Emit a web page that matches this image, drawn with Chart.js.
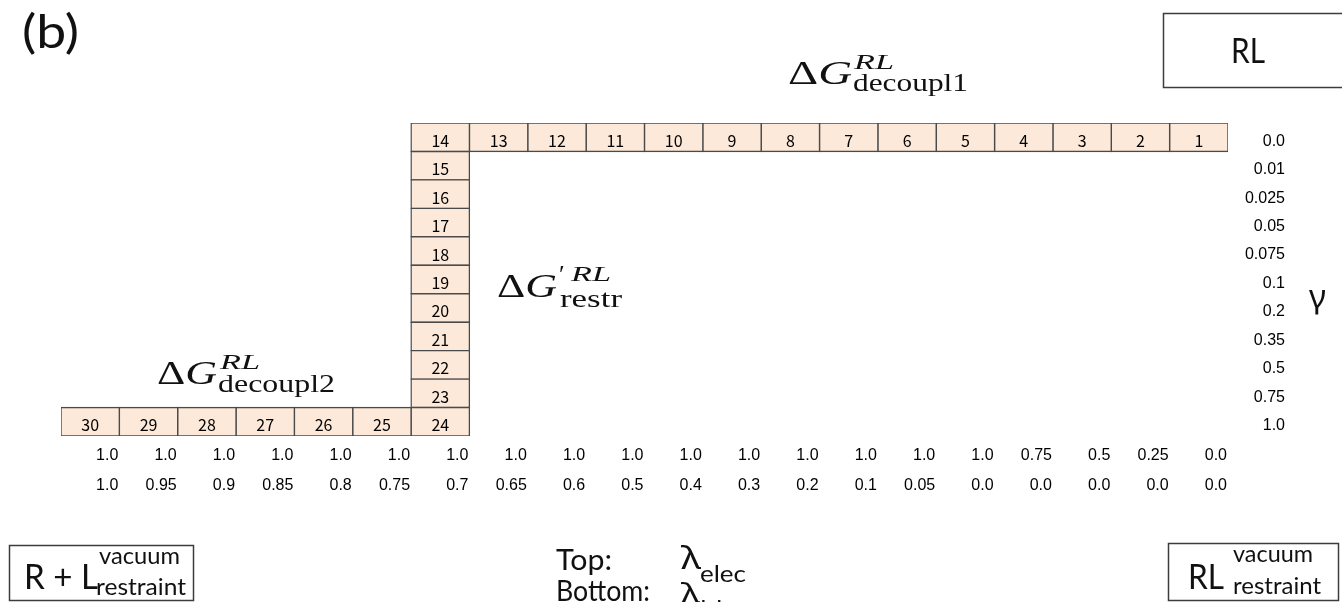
<!DOCTYPE html>
<html>
<head>
<meta charset="utf-8">
<script src="https://cdn.jsdelivr.net/npm/chart.js@4.4.1/dist/chart.umd.min.js"></script>
<style>
  html, body { margin: 0; padding: 0; background: #fff; }
  #wrap { width: 1342px; height: 602px; position: relative; overflow: hidden; }
</style>
</head>
<body>
<div id="wrap"><canvas id="c" width="1342" height="602"></canvas></div>
<script>
// λ schedule, one entry per column from left to right
const lambdaElec = ['1.0','1.0','1.0','1.0','1.0','1.0','1.0','1.0','1.0','1.0',
                    '1.0','1.0','1.0','1.0','1.0','1.0','0.75','0.5','0.25','0.0'];
const lambdaLJ   = ['1.0','0.95','0.9','0.85','0.8','0.75','0.7','0.65','0.6','0.5',
                    '0.4','0.3','0.2','0.1','0.05','0.0','0.0','0.0','0.0','0.0'];
// γ schedule, one entry per row from top to bottom
const gammaValues = ['0.0','0.01','0.025','0.05','0.075','0.1','0.2','0.35','0.5','0.75','1.0'];

// Alchemical states: number, λ column index and γ row index
const stateNumbers = [1,2,3,4,5,6,7,8,9,10,11,12,13,14,15,16,17,18,19,20,21,22,23,24,25,26,27,28,29,30];
const stateColumn  = [19,18,17,16,15,14,13,12,11,10,9,8,7,6,6,6,6,6,6,6,6,6,6,6,5,4,3,2,1,0];
const stateRow     = [0,0,0,0,0,0,0,0,0,0,0,0,0,0,1,2,3,4,5,6,7,8,9,10,10,10,10,10,10,10];

// Each state is a floating bar spanning one λ column and one γ row
const cells = stateNumbers.map((n, i) => ({ x: stateColumn[i] + 0.5, y: [stateRow[i], stateRow[i] + 1] }));

const tickFont = { family: '"Liberation Sans", Arial, sans-serif', size: 16, lineHeight: 1.875 };

// Draw text runs starting at (x, baseline), optionally stretched to a given width
function drawRuns(ctx, runs, x, baseline, width) {
  let total = 0;
  runs.forEach(([t, f]) => { ctx.font = f; total += ctx.measureText(t).width; });
  const sx = width ? width / total : 1;
  ctx.save();
  ctx.translate(x, baseline);
  ctx.scale(sx, 1);
  let cx = 0;
  runs.forEach(([t, f]) => { ctx.font = f; ctx.fillText(t, cx, 0); cx += ctx.measureText(t).width; });
  ctx.restore();
}

// State numbers inside each cell
const cellLabels = {
  id: 'cellLabels',
  afterDatasetsDraw(chart) {
    const ctx = chart.ctx;
    const meta = chart.getDatasetMeta(0);
    ctx.save();
    ctx.font = '16px "Noto Sans CJK JP", "Noto Sans", sans-serif';
    ctx.fillStyle = '#000';
    ctx.textAlign = 'center';
    ctx.textBaseline = 'alphabetic';
    meta.data.forEach((bar, i) => {
      const { x, y, base } = bar.getProps(['x', 'y', 'base'], true);
      ctx.fillText(String(stateNumbers[i]), x, (y + base) / 2 + 9.5);
    });
    ctx.restore();
  }
};

// Free energy terms, end-state boxes and axis legends
const serif = '"Liberation Serif", "Times New Roman", serif';
const sans = 'Lato, "Open Sans", sans-serif';
const greek = '"Noto Sans", "Open Sans", sans-serif';
const annotations = {
  id: 'annotations',
  afterDraw(chart) {
    const ctx = chart.ctx;
    ctx.save();
    ctx.fillStyle = '#111';
    ctx.textAlign = 'left';
    ctx.textBaseline = 'alphabetic';

    drawRuns(ctx, [['(b)', '46px ' + sans]], 22, 48, 57);

    // ΔG decoupl1
    drawRuns(ctx, [['Δ', '34px ' + serif], ['G', 'italic 34px ' + serif]], 788, 84, 64);
    drawRuns(ctx, [['RL', 'italic 21px ' + serif]], 854, 69, 40);
    drawRuns(ctx, [['decoupl1', '25px ' + serif]], 853, 91, 115);

    // ΔG' restr
    drawRuns(ctx, [['Δ', '34px ' + serif], ['G', 'italic 34px ' + serif]], 497, 297, 60);
    drawRuns(ctx, [['′', '26px ' + serif]], 559, 283);
    drawRuns(ctx, [['RL', 'italic 21px ' + serif]], 571, 281, 40);
    drawRuns(ctx, [['restr', '25px ' + serif]], 560, 307, 62);

    // ΔG decoupl2
    drawRuns(ctx, [['Δ', '34px ' + serif], ['G', 'italic 34px ' + serif]], 157, 384, 60);
    drawRuns(ctx, [['RL', 'italic 21px ' + serif]], 220, 369, 40);
    drawRuns(ctx, [['decoupl2', '25px ' + serif]], 218, 392, 117);

    // End-state boxes
    ctx.strokeStyle = '#3c3c3c';
    ctx.lineWidth = 1.5;
    ctx.strokeRect(1163.5, 13.5, 200, 74);
    drawRuns(ctx, [['RL', '34px ' + sans]], 1231, 63, 34);

    ctx.strokeRect(9.5, 545.5, 184, 55);
    drawRuns(ctx, [['R + L', '34px ' + sans]], 24, 589, 74);
    drawRuns(ctx, [['vacuum', '24px ' + sans]], 99, 564, 81);
    drawRuns(ctx, [['restraint', '24px ' + sans]], 96, 595, 90);

    ctx.strokeRect(1168.5, 543.5, 170, 57);
    drawRuns(ctx, [['RL', '34px ' + sans]], 1188, 589, 36);
    drawRuns(ctx, [['vacuum', '24px ' + sans]], 1233, 562, 80);
    drawRuns(ctx, [['restraint', '24px ' + sans]], 1233, 594, 88);

    // λ legend
    drawRuns(ctx, [['Top:', '29px ' + sans]], 556, 570, 56);
    drawRuns(ctx, [['λ', '30px ' + greek]], 681, 569, 20);
    drawRuns(ctx, [['elec', '24px ' + sans]], 700, 582, 46);
    drawRuns(ctx, [['Bottom:', '29px ' + sans]], 556, 601, 94);
    drawRuns(ctx, [['λ', '28px ' + greek]], 681, 603, 19);
    drawRuns(ctx, [['LJ', '24px ' + sans]], 700, 617);

    // γ axis name
    drawRuns(ctx, [['γ', '32px ' + greek]], 1309, 308, 17);
    ctx.restore();
  }
};

new Chart(document.getElementById('c'), {
  type: 'bar',
  data: {
    datasets: [{
      data: cells,
      backgroundColor: '#fde9d9',
      borderColor: '#4a4a4a',
      borderWidth: 1.4,
      borderSkipped: false,
      inflateAmount: 0.7,
      grouped: false,
      barPercentage: 1,
      categoryPercentage: 1
    }]
  },
  options: {
    responsive: false,
    animation: false,
    events: [],
    layout: { padding: { left: 61, top: 123, right: 57, bottom: 96 } },
    plugins: { legend: { display: false }, tooltip: { enabled: false } },
    scales: {
      x: {
        type: 'linear', min: 0, max: 20, offset: false,
        grid: { display: false, drawTicks: false },
        border: { display: false },
        afterBuildTicks: s => { s.ticks = lambdaElec.map((_, i) => ({ value: i + 1 })); },
        afterFit: s => { s.height = 70; },
        ticks: {
          autoSkip: false, maxRotation: 0, minRotation: 0, align: 'end', padding: 5,
          labelOffset: -1, color: '#000', font: tickFont,
          callback: (v, i) => [lambdaElec[i], lambdaLJ[i]]
        }
      },
      y: {
        type: 'linear', position: 'right', reverse: true, min: 0, max: 11,
        grid: { display: false, drawTicks: false },
        border: { display: false },
        afterBuildTicks: s => { s.ticks = gammaValues.map((_, i) => ({ value: i + 0.5 })); },
        afterFit: s => { s.width = 57; },
        ticks: {
          autoSkip: false, crossAlign: 'far', padding: 10, labelOffset: 4,
          color: '#000', font: { family: tickFont.family, size: 16 },
          callback: (v, i) => gammaValues[i]
        }
      }
    }
  },
  plugins: [cellLabels, annotations]
});
</script>
</body>
</html>
